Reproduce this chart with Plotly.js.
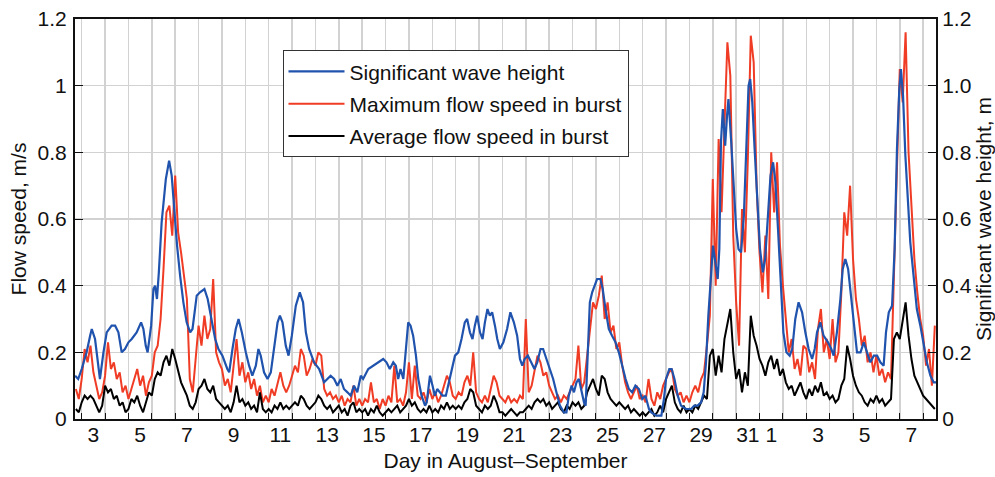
<!DOCTYPE html>
<html><head><meta charset="utf-8">
<script src="https://cdn.plot.ly/plotly-3.0.1.min.js"></script>
<style>html,body{margin:0;padding:0;background:#fff}#chart{width:995px;height:477px}</style>
</head><body><div id="chart"></div>
<script>
// Day numbers counted from 1 August (1 September = day 32)
const labelDays = [3,5,7,9,11,13,15,17,19,21,23,25,27,29,31,32,34,36,38];
const labelText = ['3','5','7','9','11','13','15','17','19','21','23','25','27','29','31','1','3','5','7'];
const flowTicks = [0,0.2,0.4,0.6,0.8,1,1.2];
const flowTickText = ['0','0.2','0.4','0.6','0.8','1','1.2'];
const waveTickText = ['0','0.2','0.4','0.6','0.8','1.0','1.2'];

// Significant wave height (m)
const waveTime = [2.72,2.85,3.0,3.21,3.36,3.43,3.57,3.71,3.78,3.93,4.07,4.28,4.43,4.57,4.71,4.85,5.0,5.14,5.35,5.54,5.64,5.74,5.82,5.97,6.07,6.14,6.22,6.3,6.42,6.6,6.74,6.85,6.97,7.08,7.21,7.35,7.49,7.64,7.74,7.92,8.06,8.25,8.39,8.56,8.71,8.85,9.02,9.23,9.31,9.45,9.59,9.71,9.85,10.02,10.16,10.3,10.45,10.56,10.66,10.8,10.95,11.09,11.23,11.38,11.48,11.59,11.73,11.85,11.99,12.16,12.33,12.47,12.59,12.73,12.94,13.16,13.37,13.51,13.65,13.8,13.94,14.08,14.22,14.37,14.51,14.65,14.79,14.94,15.04,15.26,15.47,15.69,15.9,16.04,16.18,16.33,16.44,16.54,16.64,16.76,16.87,16.97,17.07,17.18,17.3,17.4,17.54,17.69,17.76,17.9,18.01,18.11,18.21,18.33,18.44,18.58,18.68,18.82,18.97,19.11,19.25,19.39,19.49,19.61,19.72,19.82,19.92,20.04,20.15,20.25,20.36,20.46,20.56,20.68,20.78,20.89,21.04,21.2,21.34,21.49,21.63,21.75,21.85,21.95,22.09,22.23,22.37,22.49,22.63,22.74,22.89,23.03,23.17,23.31,23.46,23.63,23.74,23.84,23.96,24.06,24.17,24.27,24.37,24.49,24.56,24.66,24.74,24.84,24.94,25.05,25.19,25.29,25.41,25.55,25.69,25.84,25.98,26.12,26.27,26.41,26.55,26.69,26.84,26.98,27.12,27.27,27.37,27.58,27.8,27.91,28.0,28.14,28.24,28.36,28.5,28.64,28.85,29.07,29.21,29.35,29.5,29.61,29.71,29.81,29.93,30.01,30.11,30.21,30.28,30.35,30.43,30.53,30.61,30.67,30.79,30.9,31.0,31.1,31.21,31.33,31.43,31.53,31.6,31.69,31.79,31.9,32.02,32.14,32.24,32.36,32.47,32.58,32.68,32.79,32.91,33.02,33.15,33.29,33.4,33.53,33.67,33.82,33.96,34.1,34.25,34.36,34.46,34.6,34.74,34.93,35.07,35.17,35.31,35.46,35.56,35.67,35.79,35.9,36.03,36.17,36.32,36.46,36.6,36.74,36.89,37.03,37.17,37.31,37.41,37.53,37.67,37.78,37.88,37.98,38.05,38.14,38.24,38.35,38.45,38.59,38.73,38.88,39.02,39.16,39.31,39.45,39.55];
const waveHeight = [0.13,0.12,0.15,0.20,0.25,0.27,0.24,0.16,0.12,0.20,0.26,0.28,0.28,0.26,0.20,0.21,0.23,0.24,0.26,0.29,0.27,0.22,0.20,0.28,0.39,0.40,0.36,0.44,0.59,0.72,0.775,0.73,0.62,0.52,0.43,0.35,0.29,0.26,0.27,0.37,0.38,0.39,0.36,0.29,0.24,0.21,0.19,0.15,0.14,0.21,0.27,0.30,0.26,0.20,0.16,0.13,0.16,0.21,0.19,0.14,0.12,0.14,0.22,0.29,0.31,0.29,0.22,0.19,0.25,0.34,0.38,0.35,0.26,0.21,0.17,0.15,0.11,0.12,0.13,0.12,0.10,0.12,0.09,0.08,0.07,0.10,0.08,0.13,0.12,0.15,0.16,0.17,0.18,0.17,0.15,0.17,0.16,0.12,0.15,0.12,0.20,0.29,0.28,0.25,0.19,0.12,0.07,0.04,0.05,0.13,0.10,0.07,0.09,0.08,0.07,0.07,0.10,0.14,0.19,0.20,0.24,0.29,0.30,0.26,0.24,0.28,0.31,0.26,0.24,0.29,0.33,0.31,0.32,0.28,0.24,0.21,0.23,0.27,0.32,0.29,0.25,0.18,0.16,0.18,0.19,0.17,0.15,0.17,0.21,0.21,0.18,0.15,0.12,0.08,0.04,0.02,0.02,0.07,0.10,0.08,0.11,0.12,0.09,0.05,0.04,0.20,0.35,0.38,0.40,0.42,0.42,0.39,0.33,0.27,0.25,0.23,0.20,0.16,0.12,0.09,0.08,0.10,0.09,0.06,0.07,0.03,0.02,0.01,0.01,0.06,0.12,0.15,0.15,0.12,0.07,0.04,0.03,0.03,0.04,0.04,0.05,0.08,0.17,0.31,0.45,0.52,0.47,0.42,0.51,0.83,0.93,0.82,0.91,0.96,0.83,0.69,0.57,0.51,0.50,0.61,0.83,1.00,1.02,0.95,0.81,0.65,0.51,0.44,0.48,0.61,0.73,0.77,0.71,0.57,0.41,0.26,0.20,0.19,0.21,0.30,0.35,0.32,0.26,0.21,0.18,0.21,0.26,0.29,0.25,0.23,0.21,0.19,0.26,0.36,0.45,0.48,0.45,0.38,0.29,0.20,0.20,0.23,0.20,0.17,0.19,0.19,0.17,0.16,0.26,0.32,0.34,0.51,0.81,0.99,1.05,0.97,0.79,0.65,0.53,0.43,0.33,0.28,0.22,0.17,0.13,0.11,0.11];

// Burst statistics (m/s), sampled every 3 hours from day 2.75
const burstStart = 2.75;
const burstStep = 0.125;
const maxFlow = [
 0.09,0.06,
 0.12,0.21,0.17,0.22,0.14,0.10,0.06,0.08,
 0.13,0.23,0.15,0.17,0.12,0.14,0.08,0.10,
 0.06,0.09,0.12,0.15,0.10,0.13,0.07,0.11,
 0.13,0.20,0.22,0.30,0.45,0.62,0.64,0.55,
 0.73,0.56,0.50,0.42,0.36,0.12,0.08,0.18,
 0.28,0.22,0.31,0.24,0.27,0.42,0.20,0.17,
 0.15,0.10,0.12,0.08,0.16,0.24,0.13,0.17,
 0.11,0.14,0.09,0.12,0.07,0.10,0.05,0.07,
 0.05,0.09,0.07,0.11,0.14,0.10,0.08,0.10,
 0.13,0.16,0.14,0.21,0.19,0.13,0.15,0.18,
 0.16,0.20,0.19,0.09,0.07,0.08,0.06,0.07,
 0.05,0.07,0.04,0.06,0.05,0.10,0.04,0.06,
 0.04,0.06,0.05,0.11,0.05,0.06,0.03,0.06,
 0.04,0.07,0.05,0.16,0.05,0.06,0.04,0.08,
 0.17,0.06,0.16,0.07,0.06,0.08,0.05,0.09,
 0.06,0.08,0.05,0.07,0.10,0.13,0.11,0.07,
 0.06,0.08,0.07,0.11,0.13,0.10,0.20,0.08,
 0.06,0.05,0.07,0.05,0.09,0.13,0.11,0.07,
 0.06,0.05,0.07,0.05,0.06,0.05,0.07,0.06,
 0.30,0.08,0.10,0.15,0.19,0.17,0.13,0.14,
 0.10,0.08,0.06,0.07,0.05,0.07,0.06,0.08,
 0.10,0.12,0.22,0.09,0.11,0.19,0.28,0.35,
 0.33,0.37,0.43,0.30,0.35,0.26,0.28,0.21,
 0.23,0.16,0.11,0.08,0.06,0.08,0.10,0.06,
 0.07,0.05,0.12,0.06,0.04,0.08,0.06,0.10,
 0.12,0.14,0.15,0.09,0.07,0.08,0.05,0.07,
 0.05,0.08,0.10,0.08,0.12,0.14,0.22,0.31,
 0.72,0.40,0.84,0.62,0.88,1.13,1.03,0.55,
 0.35,0.22,0.63,0.50,0.78,1.15,1.07,0.70,
 0.50,0.38,0.55,0.36,0.80,0.62,0.77,0.52,
 0.40,0.30,0.20,0.24,0.15,0.18,0.13,0.22,
 0.21,0.14,0.17,0.12,0.27,0.33,0.20,0.24,
 0.18,0.30,0.17,0.20,0.38,0.62,0.55,0.70,
 0.48,0.36,0.30,0.22,0.25,0.17,0.20,0.14,
 0.19,0.13,0.15,0.11,0.14,0.12,0.45,0.80,
 1.05,0.95,1.16,0.80,0.62,0.48,0.38,0.30,
 0.25,0.16,0.21,0.10,0.28];
const avgFlow = [
 0.03,0.02,
 0.05,0.07,0.06,0.07,0.06,0.04,0.02,0.04,
 0.10,0.08,0.09,0.06,0.07,0.04,0.05,0.02,
 0.03,0.06,0.05,0.07,0.04,0.02,0.05,0.08,
 0.07,0.12,0.14,0.13,0.17,0.19,0.16,0.21,
 0.18,0.14,0.11,0.09,0.07,0.04,0.03,0.05,
 0.09,0.10,0.12,0.09,0.08,0.10,0.06,0.05,
 0.04,0.03,0.04,0.02,0.05,0.10,0.05,0.06,
 0.04,0.05,0.03,0.04,0.02,0.08,0.03,0.02,
 0.03,0.02,0.04,0.03,0.05,0.03,0.04,0.03,
 0.04,0.05,0.04,0.07,0.06,0.04,0.03,0.04,
 0.05,0.07,0.06,0.04,0.03,0.04,0.02,0.03,
 0.04,0.02,0.03,0.01,0.04,0.05,0.02,0.03,
 0.02,0.03,0.01,0.03,0.02,0.04,0.02,0.01,
 0.02,0.03,0.02,0.03,0.04,0.02,0.03,0.04,
 0.06,0.04,0.05,0.03,0.02,0.03,0.02,0.04,
 0.02,0.03,0.02,0.04,0.03,0.05,0.03,0.04,
 0.03,0.04,0.03,0.05,0.06,0.09,0.08,0.04,
 0.03,0.02,0.04,0.03,0.04,0.07,0.05,0.02,
 0.02,0.01,0.02,0.03,0.02,0.01,0.02,0.02,
 0.03,0.04,0.03,0.05,0.06,0.05,0.06,0.04,
 0.05,0.03,0.04,0.05,0.03,0.02,0.04,0.03,
 0.05,0.04,0.05,0.03,0.04,0.08,0.10,0.12,
 0.09,0.07,0.13,0.12,0.08,0.06,0.05,0.04,
 0.05,0.04,0.03,0.04,0.02,0.03,0.02,0.01,
 0.02,0.01,0.02,0.03,0.01,0.02,0.04,0.02,
 0.06,0.08,0.10,0.05,0.03,0.02,0.04,0.02,
 0.03,0.02,0.04,0.03,0.05,0.07,0.06,0.19,
 0.21,0.13,0.19,0.14,0.24,0.28,0.33,0.20,
 0.12,0.15,0.08,0.14,0.10,0.31,0.25,0.22,
 0.18,0.16,0.13,0.17,0.19,0.15,0.18,0.13,
 0.15,0.11,0.09,0.10,0.07,0.09,0.11,0.08,
 0.06,0.09,0.07,0.10,0.08,0.11,0.07,0.08,
 0.06,0.07,0.05,0.06,0.10,0.12,0.22,0.18,
 0.13,0.10,0.08,0.07,0.05,0.04,0.06,0.05,
 0.07,0.05,0.06,0.04,0.05,0.06,0.24,0.26,
 0.24,0.29,0.35,0.25,0.18,0.13,0.11,0.09,
 0.07,0.06,0.05,0.04,0.03];

const burstTime = maxFlow.map((_, i) => burstStart + i * burstStep);

const FONT = 'Liberation Sans, Arial, Helvetica, sans-serif';
const FS = 21;
const traces = [
  {x: burstTime, y: maxFlow, type: 'scatter', mode: 'lines', name: 'Maximum flow speed in burst',
   line: {color: '#f03c25', width: 2}, legendrank: 2, legendgroup: 'b'},
  {x: burstTime, y: avgFlow, type: 'scatter', mode: 'lines', name: 'Average flow speed in burst',
   line: {color: '#000000', width: 2}, legendrank: 3, legendgroup: 'c'},
  {x: waveTime, y: waveHeight, type: 'scatter', mode: 'lines', name: 'Significant wave height', yaxis: 'y2',
   line: {color: '#2053ad', width: 2.2}, legendrank: 1, legendgroup: 'a'}
];

const gridC = '#d2d2d2';
const layout = {
  width: 995, height: 477,
  margin: {l: 75, r: 59, t: 19, b: 58},
  paper_bgcolor: '#ffffff', plot_bgcolor: '#ffffff',
  font: {family: FONT, size: FS, color: '#111'},
  showlegend: true,
  legend: {x: 0.241, y: 0.922, xanchor: 'left', yanchor: 'top', bgcolor: '#ffffff',
           bordercolor: '#333', borderwidth: 1, font: {family: FONT, size: FS, color: '#111'},
           traceorder: 'grouped', tracegroupgap: 2, itemwidth: 56},
  xaxis: {range: [2.713, 39.55], tickmode: 'array', tickvals: labelDays.map(d => d + 0.5), ticktext: labelText,
          ticks: '', showgrid: false, zeroline: false, showline: true, linecolor: '#111', linewidth: 2, mirror: true,
          tickfont: {size: FS}, ticklabelstandoff: -4,
          minor: {tickmode: 'linear', tick0: 0, dtick: 1, ticks: 'inside', ticklen: 6, tickcolor: '#111', tickwidth: 1,
                  showgrid: true, gridcolor: gridC, gridwidth: 1.5},
          title: {text: 'Day in August–September', font: {size: FS}, standoff: 8}},
  yaxis: {range: [0, 1.2], tickmode: 'array', tickvals: flowTicks, ticktext: flowTickText, ticks: 'inside', ticklen: 8,
          tickcolor: '#111', showgrid: true, gridcolor: gridC, gridwidth: 1.5, zeroline: false, showline: true,
          linecolor: '#111', linewidth: 2, tickfont: {size: FS}, ticklabelstandoff: 2,
          title: {text: 'Flow speed, m/s', font: {size: FS}, standoff: 5}},
  yaxis2: {range: [0, 1.2], overlaying: 'y', side: 'right', tickmode: 'array', tickvals: flowTicks, ticktext: waveTickText,
           ticks: 'inside', ticklen: 8, tickcolor: '#111', showgrid: false, zeroline: false, showline: true,
           linecolor: '#111', linewidth: 2, tickfont: {size: FS},
           title: {text: 'Significant wave height, m', font: {size: FS}, standoff: 6}}
};

Plotly.newPlot('chart', traces, layout, {displayModeBar: false, staticPlot: true});
</script>
</body></html>
